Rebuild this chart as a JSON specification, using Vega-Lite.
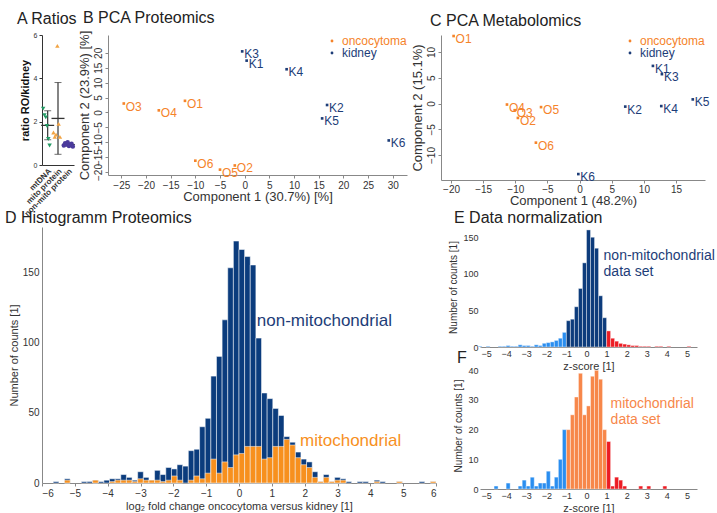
{
  "$schema": "https://vega.github.io/schema/vega-lite/v6.json",
  "background": "white",
  "padding": {"left": 5, "top": 10, "right": 0, "bottom": 0},
  "config": {
    "font": "Liberation Sans",
    "view": {"stroke": null},
    "title": {"anchor": "start", "frame": "group", "fontSize": 16, "fontWeight": "normal", "color": "#222", "offset": 4},
    "axis": {"grid": false, "domainColor": "#888", "tickColor": "#888", "labelColor": "#333", "titleColor": "#333", "titleFontWeight": "normal", "labelFontSize": 10, "titleFontSize": 12, "tickSize": 3, "labelPadding": 2, "labelOverlap": false}
  },
  "datasets": {
    "ratios": [
      {"group": "mtDNA", "sample": 1, "ratio": 2.6}, {"group": "mtDNA", "sample": 2, "ratio": 2.3}, {"group": "mtDNA", "sample": 3, "ratio": 2.2},
      {"group": "mtDNA", "sample": 4, "ratio": 1.8}, {"group": "mtDNA", "sample": 5, "ratio": 1.2}, {"group": "mtDNA", "sample": 6, "ratio": 0.9},
      {"group": "mito protein", "sample": 1, "ratio": 1.5}, {"group": "mito protein", "sample": 2, "ratio": 1.3}, {"group": "mito protein", "sample": 3, "ratio": 1.4},
      {"group": "mito protein", "sample": 4, "ratio": 5.5}, {"group": "mito protein", "sample": 5, "ratio": 1.9}, {"group": "mito protein", "sample": 6, "ratio": 1.3},
      {"group": "non-mito protein", "sample": 1, "ratio": 0.9}, {"group": "non-mito protein", "sample": 2, "ratio": 1.0}, {"group": "non-mito protein", "sample": 3, "ratio": 0.95},
      {"group": "non-mito protein", "sample": 4, "ratio": 1.05}, {"group": "non-mito protein", "sample": 5, "ratio": 0.88}, {"group": "non-mito protein", "sample": 6, "ratio": 0.92},
      {"group": "non-mito protein", "sample": 7, "ratio": 0.98}, {"group": "non-mito protein", "sample": 8, "ratio": 0.85}
    ],
    "pcaP": [
      {"id": "O1", "tissue": "oncocytoma", "pc1": -12.1, "pc2": 3.9},
      {"id": "O2", "tissue": "oncocytoma", "pc1": -2.0, "pc2": -17.8},
      {"id": "O3", "tissue": "oncocytoma", "pc1": -24.5, "pc2": 3.0},
      {"id": "O4", "tissue": "oncocytoma", "pc1": -17.4, "pc2": 0.7},
      {"id": "O5", "tissue": "oncocytoma", "pc1": -5.0, "pc2": -19.2},
      {"id": "O6", "tissue": "oncocytoma", "pc1": -10.0, "pc2": -16.2},
      {"id": "K1", "tissue": "kidney", "pc1": 0.4, "pc2": 17.4},
      {"id": "K2", "tissue": "kidney", "pc1": 16.7, "pc2": 2.5},
      {"id": "K3", "tissue": "kidney", "pc1": -0.5, "pc2": 20.5},
      {"id": "K4", "tissue": "kidney", "pc1": 8.5, "pc2": 14.5},
      {"id": "K5", "tissue": "kidney", "pc1": 15.7, "pc2": -2.0},
      {"id": "K6", "tissue": "kidney", "pc1": 29.2, "pc2": -9.4}
    ],
    "pcaM": [
      {"id": "O1", "tissue": "oncocytoma", "pc1": -19.6, "pc2": 13.1},
      {"id": "O2", "tissue": "oncocytoma", "pc1": -9.6, "pc2": -2.8},
      {"id": "O3", "tissue": "oncocytoma", "pc1": -10.1, "pc2": -1.3},
      {"id": "O4", "tissue": "oncocytoma", "pc1": -11.3, "pc2": -0.2},
      {"id": "O5", "tissue": "oncocytoma", "pc1": -6.0, "pc2": -0.7},
      {"id": "O6", "tissue": "oncocytoma", "pc1": -6.8, "pc2": -7.6},
      {"id": "K1", "tissue": "kidney", "pc1": 11.4, "pc2": 7.3},
      {"id": "K2", "tissue": "kidney", "pc1": 7.1, "pc2": -0.6},
      {"id": "K3", "tissue": "kidney", "pc1": 12.8, "pc2": 5.7},
      {"id": "K4", "tissue": "kidney", "pc1": 12.7, "pc2": -0.5},
      {"id": "K5", "tissue": "kidney", "pc1": 17.6, "pc2": 0.8},
      {"id": "K6", "tissue": "kidney", "pc1": -0.2, "pc2": -13.7}
    ],
    "histD": [
      {"lo": -5.657, "hi": -5.486, "total": 1, "mito": 0},
      {"lo": -5.314, "hi": -5.143, "total": 3, "mito": 2},
      {"lo": -4.800, "hi": -4.629, "total": 1, "mito": 0},
      {"lo": -4.629, "hi": -4.457, "total": 1, "mito": 0}, {"lo": -4.457, "hi": -4.286, "total": 2, "mito": 2},
      {"lo": -4.286, "hi": -4.114, "total": 1, "mito": 0}, {"lo": -4.114, "hi": -3.943, "total": 2, "mito": 0},
      {"lo": -3.943, "hi": -3.771, "total": 3, "mito": 1}, {"lo": -3.771, "hi": -3.600, "total": 3, "mito": 2},
      {"lo": -3.600, "hi": -3.429, "total": 6, "mito": 2}, {"lo": -3.429, "hi": -3.257, "total": 4, "mito": 2},
      {"lo": -3.257, "hi": -3.086, "total": 2, "mito": 1}, {"lo": -3.086, "hi": -2.914, "total": 8, "mito": 3},
      {"lo": -2.914, "hi": -2.743, "total": 4, "mito": 2}, {"lo": -2.743, "hi": -2.571, "total": 2, "mito": 2},
      {"lo": -2.571, "hi": -2.400, "total": 9, "mito": 2}, {"lo": -2.400, "hi": -2.229, "total": 6, "mito": 1},
      {"lo": -2.229, "hi": -2.057, "total": 11, "mito": 2}, {"lo": -2.057, "hi": -1.886, "total": 10, "mito": 5},
      {"lo": -1.886, "hi": -1.714, "total": 13, "mito": 2}, {"lo": -1.714, "hi": -1.543, "total": 12, "mito": 0},
      {"lo": -1.543, "hi": -1.371, "total": 23, "mito": 2}, {"lo": -1.371, "hi": -1.200, "total": 24, "mito": 5},
      {"lo": -1.200, "hi": -1.029, "total": 40, "mito": 3}, {"lo": -1.029, "hi": -0.857, "total": 46, "mito": 7},
      {"lo": -0.857, "hi": -0.686, "total": 76, "mito": 17}, {"lo": -0.686, "hi": -0.514, "total": 90, "mito": 7},
      {"lo": -0.514, "hi": -0.343, "total": 116, "mito": 15}, {"lo": -0.343, "hi": -0.171, "total": 153, "mito": 11},
      {"lo": -0.171, "hi": 0.000, "total": 172, "mito": 20}, {"lo": 0.000, "hi": 0.171, "total": 166, "mito": 21},
      {"lo": 0.171, "hi": 0.343, "total": 161, "mito": 26}, {"lo": 0.343, "hi": 0.514, "total": 155, "mito": 26},
      {"lo": 0.514, "hi": 0.686, "total": 103, "mito": 26}, {"lo": 0.686, "hi": 0.857, "total": 64, "mito": 17},
      {"lo": 0.857, "hi": 1.029, "total": 60, "mito": 18}, {"lo": 1.029, "hi": 1.200, "total": 53, "mito": 26},
      {"lo": 1.200, "hi": 1.371, "total": 48, "mito": 26}, {"lo": 1.371, "hi": 1.543, "total": 33, "mito": 31},
      {"lo": 1.543, "hi": 1.714, "total": 29, "mito": 27}, {"lo": 1.714, "hi": 1.886, "total": 22, "mito": 18},
      {"lo": 1.886, "hi": 2.057, "total": 17, "mito": 13}, {"lo": 2.057, "hi": 2.229, "total": 15, "mito": 11},
      {"lo": 2.229, "hi": 2.400, "total": 8, "mito": 4}, {"lo": 2.400, "hi": 2.571, "total": 1, "mito": 1},
      {"lo": 2.571, "hi": 2.743, "total": 6, "mito": 4}, {"lo": 2.743, "hi": 2.914, "total": 1, "mito": 1},
      {"lo": 2.914, "hi": 3.086, "total": 4, "mito": 2}, {"lo": 3.086, "hi": 3.257, "total": 3, "mito": 2},
      {"lo": 3.257, "hi": 3.429, "total": 1, "mito": 0},
      {"lo": 3.600, "hi": 3.771, "total": 1, "mito": 0}, {"lo": 3.771, "hi": 3.943, "total": 1, "mito": 0},
      {"lo": 4.114, "hi": 4.286, "total": 2, "mito": 1},
      {"lo": 4.286, "hi": 4.457, "total": 1, "mito": 0},
      {"lo": 4.800, "hi": 4.971, "total": 1, "mito": 1},
      {"lo": 5.486, "hi": 5.657, "total": 1, "mito": 0},
      {"lo": 5.829, "hi": 6.000, "total": 1, "mito": 1}
    ],
    "histE": [
      {"lo": -5.4, "hi": -5.2, "n": 1, "grp": "low"}, {"lo": -5.0, "hi": -4.8, "n": 1, "grp": "low"},
      {"lo": -4.4, "hi": -4.2, "n": 1, "grp": "low"}, {"lo": -4.2, "hi": -4.0, "n": 1, "grp": "low"},
      {"lo": -4.0, "hi": -3.8, "n": 2, "grp": "low"}, {"lo": -3.8, "hi": -3.6, "n": 1, "grp": "low"},
      {"lo": -3.6, "hi": -3.4, "n": 1, "grp": "low"}, {"lo": -3.4, "hi": -3.2, "n": 3, "grp": "low"},
      {"lo": -3.2, "hi": -3.0, "n": 2, "grp": "low"}, {"lo": -3.0, "hi": -2.8, "n": 2, "grp": "low"},
      {"lo": -2.8, "hi": -2.6, "n": 1, "grp": "low"}, {"lo": -2.6, "hi": -2.4, "n": 3, "grp": "low"},
      {"lo": -2.4, "hi": -2.2, "n": 2, "grp": "low"}, {"lo": -2.2, "hi": -2.0, "n": 5, "grp": "low"},
      {"lo": -2.0, "hi": -1.8, "n": 6, "grp": "low"}, {"lo": -1.8, "hi": -1.6, "n": 7, "grp": "low"},
      {"lo": -1.6, "hi": -1.4, "n": 9, "grp": "low"}, {"lo": -1.4, "hi": -1.2, "n": 12, "grp": "low"},
      {"lo": -1.2, "hi": -1.0, "n": 20, "grp": "low"}, {"lo": -1.0, "hi": -0.8, "n": 36, "grp": "mid"},
      {"lo": -0.8, "hi": -0.6, "n": 38, "grp": "mid"}, {"lo": -0.6, "hi": -0.4, "n": 55, "grp": "mid"},
      {"lo": -0.4, "hi": -0.2, "n": 80, "grp": "mid"}, {"lo": -0.2, "hi": 0.0, "n": 115, "grp": "mid"},
      {"lo": 0.0, "hi": 0.2, "n": 160, "grp": "mid"}, {"lo": 0.2, "hi": 0.4, "n": 150, "grp": "mid"},
      {"lo": 0.4, "hi": 0.6, "n": 135, "grp": "mid"}, {"lo": 0.6, "hi": 0.8, "n": 70, "grp": "mid"},
      {"lo": 0.8, "hi": 1.0, "n": 40, "grp": "mid"}, {"lo": 1.0, "hi": 1.2, "n": 22, "grp": "high"},
      {"lo": 1.2, "hi": 1.4, "n": 12, "grp": "high"}, {"lo": 1.4, "hi": 1.6, "n": 8, "grp": "high"},
      {"lo": 1.6, "hi": 1.8, "n": 5, "grp": "high"}, {"lo": 1.8, "hi": 2.0, "n": 4, "grp": "high"},
      {"lo": 2.0, "hi": 2.2, "n": 3, "grp": "high"}, {"lo": 2.2, "hi": 2.4, "n": 2, "grp": "high"},
      {"lo": 2.4, "hi": 2.6, "n": 2, "grp": "high"}, {"lo": 2.6, "hi": 2.8, "n": 1, "grp": "high"},
      {"lo": 2.8, "hi": 3.0, "n": 1, "grp": "high"}, {"lo": 3.0, "hi": 3.2, "n": 1, "grp": "high"},
      {"lo": 3.4, "hi": 3.6, "n": 1, "grp": "high"}, {"lo": 3.6, "hi": 3.8, "n": 1, "grp": "high"},
      {"lo": 4.0, "hi": 4.2, "n": 1, "grp": "high"}, {"lo": 5.0, "hi": 5.2, "n": 1, "grp": "high"}
    ],
    "histF": [
      {"lo": -4.6, "hi": -4.4, "n": 1, "grp": "low"}, {"lo": -4.0, "hi": -3.8, "n": 2, "grp": "low"},
      {"lo": -3.4, "hi": -3.2, "n": 1, "grp": "low"}, {"lo": -3.2, "hi": -3.0, "n": 3, "grp": "low"},
      {"lo": -3.0, "hi": -2.8, "n": 1, "grp": "low"}, {"lo": -2.8, "hi": -2.6, "n": 4, "grp": "low"},
      {"lo": -2.6, "hi": -2.4, "n": 1, "grp": "low"}, {"lo": -2.4, "hi": -2.2, "n": 2, "grp": "low"},
      {"lo": -2.2, "hi": -2.0, "n": 2, "grp": "low"}, {"lo": -2.0, "hi": -1.8, "n": 6, "grp": "low"},
      {"lo": -1.8, "hi": -1.6, "n": 1, "grp": "low"}, {"lo": -1.6, "hi": -1.4, "n": 4, "grp": "low"},
      {"lo": -1.4, "hi": -1.2, "n": 10, "grp": "low"}, {"lo": -1.2, "hi": -1.0, "n": 20, "grp": "low"},
      {"lo": -1.0, "hi": -0.8, "n": 20, "grp": "mid"}, {"lo": -0.8, "hi": -0.6, "n": 25, "grp": "mid"},
      {"lo": -0.6, "hi": -0.4, "n": 31, "grp": "mid"}, {"lo": -0.4, "hi": -0.2, "n": 39, "grp": "mid"},
      {"lo": -0.2, "hi": 0.0, "n": 25, "grp": "mid"}, {"lo": 0.0, "hi": 0.2, "n": 28, "grp": "mid"},
      {"lo": 0.2, "hi": 0.4, "n": 38, "grp": "mid"}, {"lo": 0.4, "hi": 0.6, "n": 40, "grp": "mid"},
      {"lo": 0.6, "hi": 0.8, "n": 37, "grp": "mid"}, {"lo": 0.8, "hi": 1.0, "n": 20, "grp": "mid"},
      {"lo": 1.0, "hi": 1.2, "n": 16, "grp": "high"}, {"lo": 1.2, "hi": 1.4, "n": 1, "grp": "high"},
      {"lo": 1.4, "hi": 1.6, "n": 4, "grp": "high"}, {"lo": 1.6, "hi": 1.8, "n": 3, "grp": "high"},
      {"lo": 1.8, "hi": 2.0, "n": 1, "grp": "high"}, {"lo": 2.6, "hi": 2.8, "n": 1, "grp": "high"},
      {"lo": 3.0, "hi": 3.2, "n": 1, "grp": "high"}, {"lo": 3.8, "hi": 4.0, "n": 1, "grp": "high"}
    ],
    "labelsD": [
      {"label": "non-mitochondrial", "series": "non-mito", "lx": 2.6, "ly": 115},
      {"label": "mitochondrial", "series": "mito", "lx": 3.4, "ly": 30}
    ]
  },
  "concat": [
    {
      "hconcat": [
        {
          "width": 32, "height": 130,
          "title": {"text": "A Ratios", "dx": -25},
          "data": {"name": "ratios"},
          "encoding": {
            "x": {"field": "group", "type": "nominal", "sort": ["mtDNA", "mito protein", "non-mito protein"],
                  "scale": {"paddingInner": 0, "paddingOuter": 0.05},
                  "axis": {"title": null, "labelAngle": -45, "labelFontSize": 8, "labelFontWeight": "bold", "tickSize": 0, "domainColor": "#333", "labelPadding": 2}}
          },
          "layer": [
            {
              "mark": {"type": "errorbar", "extent": "stdev", "ticks": {"size": 7, "color": "#333"}, "rule": {"color": "#333", "strokeWidth": 1.2}},
              "encoding": {"y": {"field": "ratio", "type": "quantitative", "scale": {"domain": [0, 6], "nice": false},
                "axis": {"title": "ratio RO/kidney", "titleFontWeight": "bold", "titleFontSize": 11, "titleColor": "#111", "values": [0, 1, 2, 3, 4, 5, 6], "labelFontSize": 7, "tickSize": 3, "domainColor": "#333", "tickColor": "#333", "titlePadding": 3, "labelOverlap": false}}}
            },
            {
              "mark": {"type": "tick", "color": "#333", "thickness": 1.3, "size": 13},
              "encoding": {"y": {"aggregate": "mean", "field": "ratio", "type": "quantitative"}}
            },
            {
              "mark": {"type": "point", "filled": true, "size": 20, "opacity": 1},
              "encoding": {
                "xOffset": {"field": "sample", "type": "ordinal"},
                "y": {"field": "ratio", "type": "quantitative"},
                "shape": {"field": "group", "type": "nominal", "scale": {"domain": ["mtDNA", "mito protein", "non-mito protein"], "range": ["triangle-down", "triangle-up", "circle"]}, "legend": null},
                "color": {"field": "group", "type": "nominal", "scale": {"domain": ["mtDNA", "mito protein", "non-mito protein"], "range": ["#239a64", "#f2a444", "#4b3b9c"]}, "legend": null}
              }
            }
          ]
        },
        {
          "width": 299, "height": 140,
          "title": {"text": "B PCA Proteomics", "dx": -25},
          "data": {"name": "pcaP"},
          "encoding": {
            "x": {"field": "pc1", "type": "quantitative", "scale": {"domain": [-27.7, 32.9], "nice": false, "zero": false},
                  "axis": {"title": "Component 1 (30.7%) [%]", "values": [-25, -20, -15, -10, -5, 0, 5, 10, 15, 20, 25, 30], "titleFontSize": 13, "titlePadding": 0, "labelOverlap": false}},
            "y": {"field": "pc2", "type": "quantitative", "scale": {"domain": [-21, 26], "nice": false, "zero": false},
                  "axis": {"title": "Component 2 (23.9%) [%]", "values": [-20, -15, -10, -5, 0, 5, 10, 15, 20], "labelAngle": -90, "labelAlign": "center", "labelBaseline": "bottom", "titleFontSize": 13, "titlePadding": 2, "labelOverlap": false}},
            "color": {"field": "tissue", "type": "nominal", "scale": {"domain": ["oncocytoma", "kidney"], "range": ["#f5832a", "#1d3d78"]},
                "legend": {"title": null, "orient": "top-right", "offset": 0, "symbolType": "circle", "symbolSize": 8, "labelFontSize": 12, "rowPadding": 0, "padding": 0, "symbolOffset": 0,
                  "encode": {"labels": {"update": {"fill": {"signal": "datum.value === 'oncocytoma' ? '#f5832a' : '#1d3d78'"}}}}}}
          },
          "layer": [
            {"mark": {"type": "point", "shape": "square", "filled": true, "size": 7, "opacity": 1}},
            {"mark": {"type": "text", "align": "left", "baseline": "middle", "dx": 2, "dy": 3, "fontSize": 12}, "encoding": {"text": {"field": "id"}}}
          ]
        },
        {
          "width": 264, "height": 145,
          "title": {"text": "C PCA Metabolomics", "dx": -11},
          "data": {"name": "pcaM"},
          "encoding": {
            "x": {"field": "pc1", "type": "quantitative", "scale": {"domain": [-21.56, 19.5], "nice": false, "zero": false},
                  "axis": {"title": "Component 1 (48.2%)", "values": [-20, -15, -10, -5, 0, 5, 10, 15], "titleFontSize": 13, "titlePadding": 0, "labelPadding": 1, "labelOverlap": false}},
            "y": {"field": "pc2", "type": "quantitative", "scale": {"domain": [-14.85, 13.3], "nice": false, "zero": false},
                  "axis": {"title": "Component 2 (15.1%)", "values": [-10, -5, 0, 5, 10], "labelAngle": -90, "labelAlign": "center", "labelBaseline": "bottom", "titleFontSize": 13, "titlePadding": 2, "labelOverlap": false}},
            "color": {"field": "tissue", "type": "nominal", "scale": {"domain": ["oncocytoma", "kidney"], "range": ["#f5832a", "#1d3d78"]},
                "legend": {"title": null, "orient": "top-right", "offset": 0, "symbolType": "circle", "symbolSize": 8, "labelFontSize": 12, "rowPadding": 0, "padding": 0, "symbolOffset": 0,
                  "encode": {"labels": {"update": {"fill": {"signal": "datum.value === 'oncocytoma' ? '#f5832a' : '#1d3d78'"}}}}}}
          },
          "layer": [
            {"mark": {"type": "point", "shape": "square", "filled": true, "size": 7, "opacity": 1}},
            {"mark": {"type": "text", "align": "left", "baseline": "middle", "dx": 2, "dy": 3, "fontSize": 12}, "encoding": {"text": {"field": "id"}}}
          ]
        }
      ],
      "spacing": 34,
      "bounds": "flush",
      "resolve": {"scale": {"color": "independent", "shape": "independent", "x": "independent", "y": "independent"}, "legend": {"color": "independent"}}
    },
    {
      "hconcat": [
        {
          "width": 394, "height": 256,
          "title": {"text": "D Histogramm Proteomics", "dx": -37, "offset": 1},
          "layer": [
            {
              "data": {"name": "histD"},
              "transform": [{"filter": "datum.total > 0"}],
              "mark": {"type": "bar", "color": "#0b3c7d", "stroke": "#ffffff", "strokeWidth": 0.5},
              "encoding": {
                "x": {"field": "lo", "type": "quantitative", "scale": {"domain": [-6, 6], "nice": false, "zero": false},
                      "axis": {"title": "log₂ fold change oncocytoma versus kidney [1]", "values": [-6, -5, -4, -3, -2, -1, 0, 1, 2, 3, 4, 5, 6], "titleFontSize": 11, "tickSize": 3, "titlePadding": 2, "labelOverlap": false}},
                "x2": {"field": "hi"},
                "y": {"field": "total", "type": "quantitative", "scale": {"domain": [0, 182], "nice": false},
                      "axis": {"title": "Number of counts [1]", "values": [0, 50, 100, 150], "titleFontSize": 11, "tickSize": 0, "labelPadding": 3, "titlePadding": 3, "labelOverlap": false}},
                "y2": {"datum": 0}
              }
            },
            {
              "data": {"name": "histD"},
              "transform": [{"filter": "datum.mito > 0"}],
              "mark": {"type": "bar", "color": "#f7901e", "stroke": "#ffffff", "strokeWidth": 0.5},
              "encoding": {
                "x": {"field": "lo", "type": "quantitative",
                      "axis": {"title": "log₂ fold change oncocytoma versus kidney [1]", "values": [-6, -5, -4, -3, -2, -1, 0, 1, 2, 3, 4, 5, 6], "titleFontSize": 11, "tickSize": 3, "titlePadding": 2, "labelOverlap": false}},
                "x2": {"field": "hi"},
                "y": {"field": "mito", "type": "quantitative",
                      "axis": {"title": "Number of counts [1]", "values": [0, 50, 100, 150], "titleFontSize": 11, "tickSize": 0, "labelPadding": 3, "titlePadding": 3, "labelOverlap": false}},
                "y2": {"datum": 0}
              }
            },
            {
              "data": {"values": [{}]},
              "mark": {"type": "text", "text": "non-mitochondrial", "color": "#1d3d78", "fontSize": 17, "align": "center", "baseline": "middle"},
              "encoding": {
                "x": {"datum": 2.6, "type": "quantitative",
                      "axis": {"title": "log₂ fold change oncocytoma versus kidney [1]", "values": [-6, -5, -4, -3, -2, -1, 0, 1, 2, 3, 4, 5, 6], "titleFontSize": 11, "tickSize": 3, "titlePadding": 2, "labelOverlap": false}},
                "y": {"datum": 115, "type": "quantitative",
                      "axis": {"title": "Number of counts [1]", "values": [0, 50, 100, 150], "titleFontSize": 11, "tickSize": 0, "labelPadding": 3, "titlePadding": 3, "labelOverlap": false}}
              }
            },
            {
              "data": {"values": [{}]},
              "mark": {"type": "text", "text": "mitochondrial", "color": "#f7901e", "fontSize": 17, "align": "center", "baseline": "middle"},
              "encoding": {
                "x": {"datum": 3.4, "type": "quantitative",
                      "axis": {"title": "log₂ fold change oncocytoma versus kidney [1]", "values": [-6, -5, -4, -3, -2, -1, 0, 1, 2, 3, 4, 5, 6], "titleFontSize": 11, "tickSize": 3, "titlePadding": 2, "labelOverlap": false}},
                "y": {"datum": 30, "type": "quantitative",
                      "axis": {"title": "Number of counts [1]", "values": [0, 50, 100, 150], "titleFontSize": 11, "tickSize": 0, "labelPadding": 3, "titlePadding": 3, "labelOverlap": false}}
              }
            }
          ]
        },
        {
          "vconcat": [
            {
              "width": 217, "height": 120,
              "title": {"text": "E Data normalization", "dx": -26, "offset": 1},
              "layer": [
                {
                  "data": {"name": "histE"},
                  "mark": {"type": "bar", "stroke": "#ffffff", "strokeWidth": 0.4},
                  "encoding": {
                    "x": {"field": "lo", "type": "quantitative", "scale": {"domain": [-5.3, 5.5], "nice": false, "zero": false},
                          "axis": {"title": "z-score [1]", "values": [-5, -4, -3, -2, -1, 0, 1, 2, 3, 4, 5], "labelFontSize": 9, "titleFontSize": 11, "tickSize": 0, "titlePadding": 2, "labelOverlap": false}},
                    "x2": {"field": "hi"},
                    "y": {"field": "n", "type": "quantitative", "scale": {"domain": [0, 164], "nice": false},
                          "axis": {"title": "Number of counts [1]", "values": [0, 50, 100, 150], "labelFontSize": 9, "titleFontSize": 10, "tickSize": 0, "domain": false, "labelOverlap": false}},
                    "y2": {"datum": 0},
                    "color": {"field": "grp", "type": "nominal", "scale": {"domain": ["low", "mid", "high"], "range": ["#2a8ef0", "#0d3c7c", "#ec1c24"]}, "legend": null}
                  }
                },
                {
                  "data": {"values": [{}]},
                  "mark": {"type": "text", "text": ["non-mitochondrial", "data set"], "color": "#1d3d78", "fontSize": 14, "lineHeight": 16, "align": "left", "baseline": "top"},
                  "encoding": {
                    "x": {"datum": 0.85, "type": "quantitative",
                          "axis": {"title": "z-score [1]", "values": [-5, -4, -3, -2, -1, 0, 1, 2, 3, 4, 5], "labelFontSize": 9, "titleFontSize": 11, "tickSize": 0, "titlePadding": 2, "labelOverlap": false}},
                    "y": {"datum": 134, "type": "quantitative",
                          "axis": {"title": "Number of counts [1]", "values": [0, 50, 100, 150], "labelFontSize": 9, "titleFontSize": 10, "tickSize": 0, "domain": false, "labelOverlap": false}}
                  }
                }
              ]
            },
            {
              "width": 217, "height": 127,
              "title": {"text": "F", "dx": -23, "offset": -4},
              "layer": [
                {
                  "data": {"name": "histF"},
                  "mark": {"type": "bar", "stroke": "#ffffff", "strokeWidth": 0.4},
                  "encoding": {
                    "x": {"field": "lo", "type": "quantitative", "scale": {"domain": [-5.3, 5.5], "nice": false, "zero": false},
                          "axis": {"title": "z-score [1]", "values": [-5, -4, -3, -2, -1, 0, 1, 2, 3, 4, 5], "labelFontSize": 9, "titleFontSize": 11, "tickSize": 0, "titlePadding": 2, "labelOverlap": false}},
                    "x2": {"field": "hi"},
                    "y": {"field": "n", "type": "quantitative", "scale": {"domain": [0, 42.8], "nice": false},
                          "axis": {"title": "Number of counts [1]", "values": [0, 10, 20, 30, 40], "labelFontSize": 9, "titleFontSize": 10, "tickSize": 0, "domain": false, "labelOverlap": false}},
                    "y2": {"datum": 0},
                    "color": {"field": "grp", "type": "nominal", "scale": {"domain": ["low", "mid", "high"], "range": ["#2a8ef0", "#f7874a", "#ec1c24"]}, "legend": null}
                  }
                },
                {
                  "data": {"values": [{}]},
                  "mark": {"type": "text", "text": ["mitochondrial", "data set"], "color": "#f7874a", "fontSize": 14, "lineHeight": 16, "align": "left", "baseline": "top"},
                  "encoding": {
                    "x": {"datum": 1.2, "type": "quantitative",
                          "axis": {"title": "z-score [1]", "values": [-5, -4, -3, -2, -1, 0, 1, 2, 3, 4, 5], "labelFontSize": 9, "titleFontSize": 11, "tickSize": 0, "titlePadding": 2, "labelOverlap": false}},
                    "y": {"datum": 31, "type": "quantitative",
                          "axis": {"title": "Number of counts [1]", "values": [0, 10, 20, 30, 40], "labelFontSize": 9, "titleFontSize": 10, "tickSize": 0, "domain": false, "labelOverlap": false}}
                  }
                }
              ]
            }
          ],
          "spacing": 15,
          "bounds": "flush",
          "resolve": {"scale": {"x": "independent", "y": "independent", "color": "independent"}}
        }
      ],
      "spacing": 44,
      "bounds": "flush",
      "resolve": {"scale": {"x": "independent", "y": "independent", "color": "independent"}}
    }
  ],
  "columns": 1,
  "align": "none",
  "spacing": -8,
  "resolve": {"scale": {"color": "independent", "x": "independent", "y": "independent", "shape": "independent"}}
}
